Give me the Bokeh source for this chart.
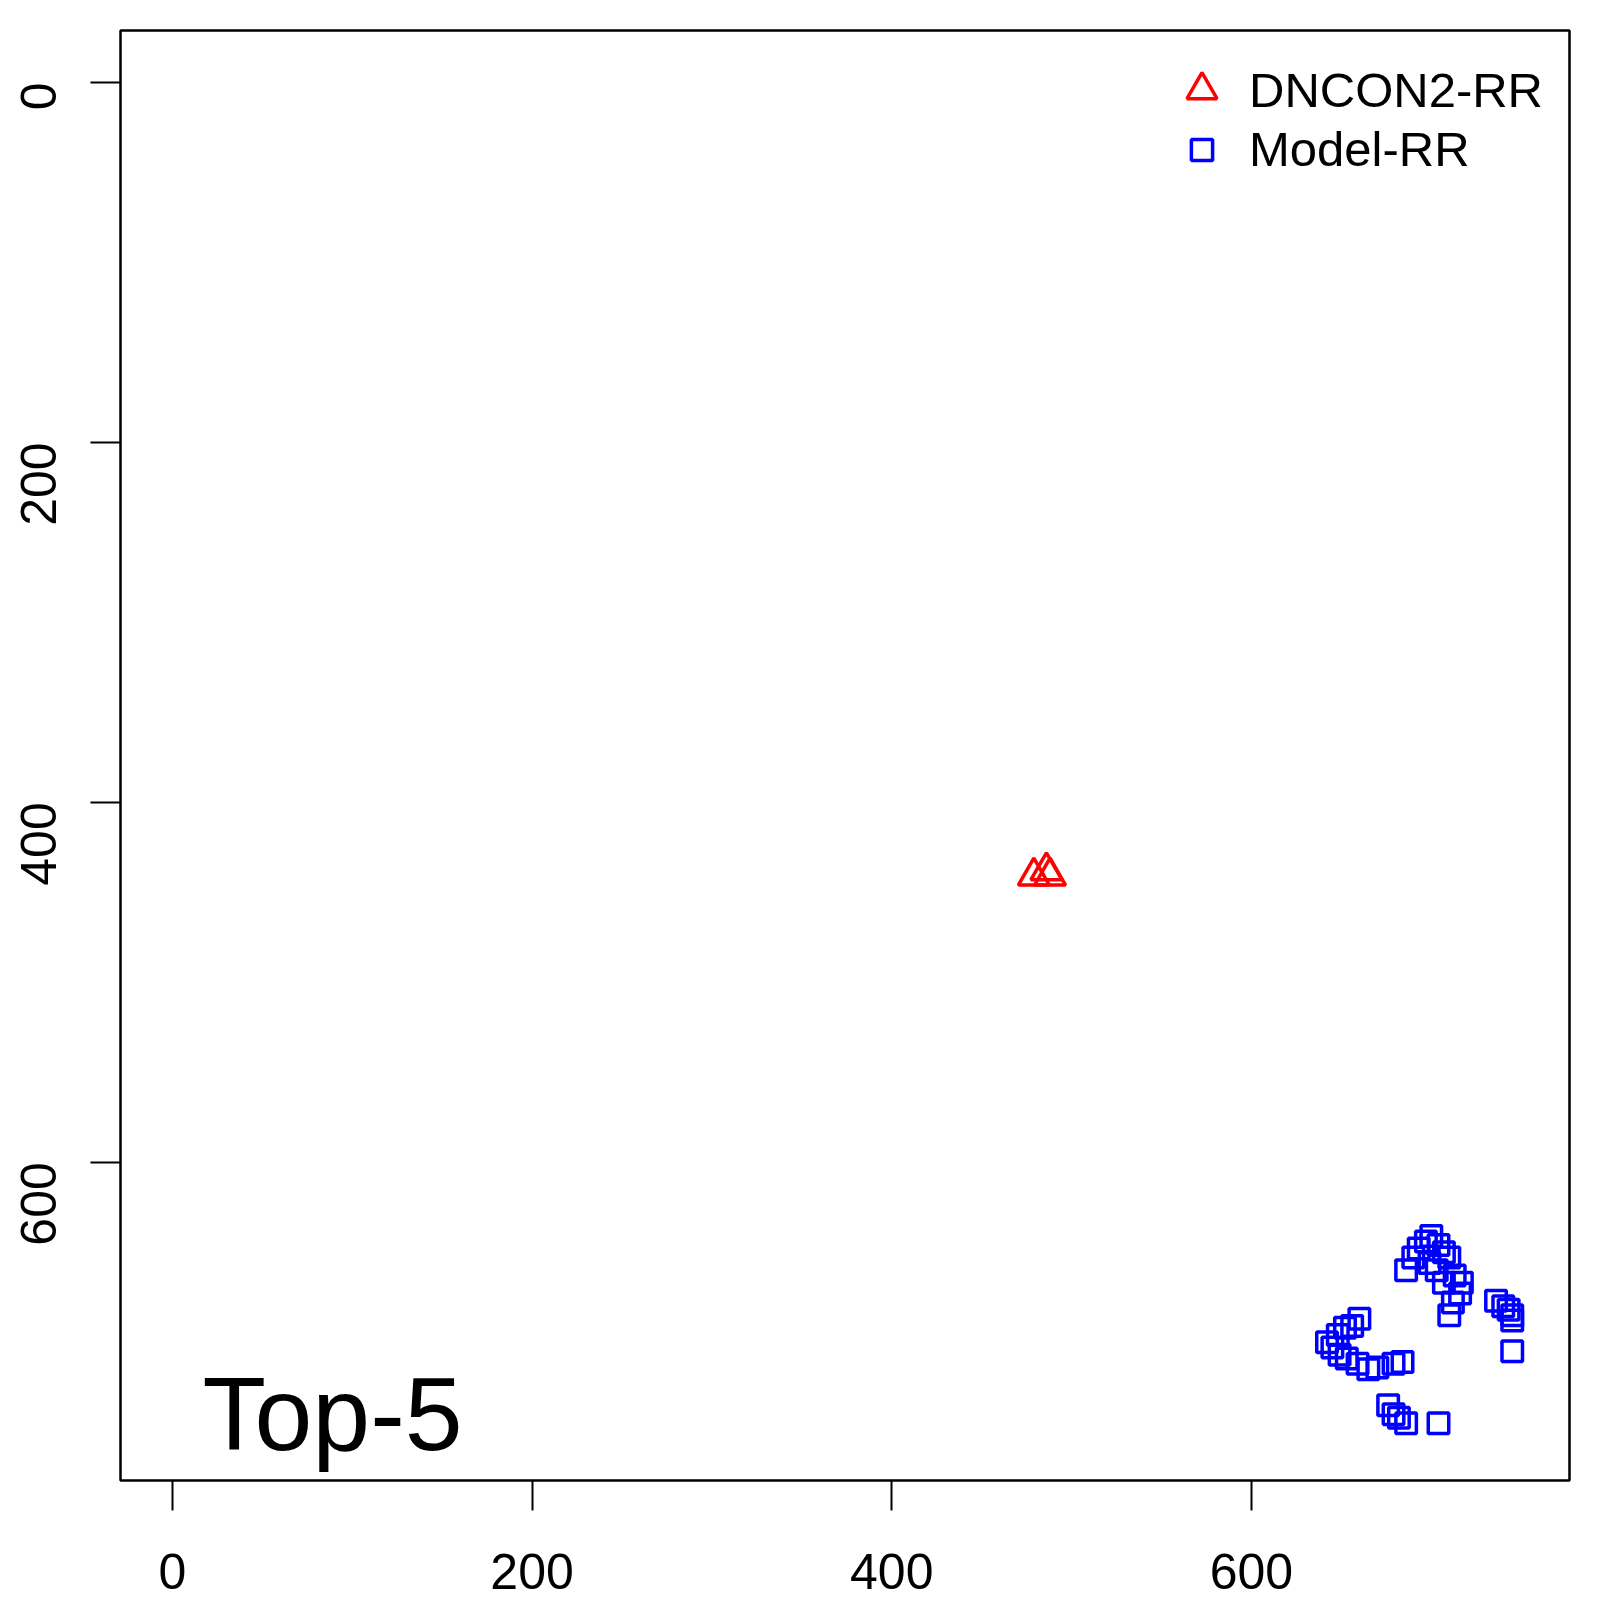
import math
from bokeh.plotting import figure
from bokeh.models import (Range1d, FixedTicker, Legend, LegendItem, Label,
                          LinearAxis)
from bokeh.embed import file_html
from bokeh.resources import INLINE

# ---- data ----
dncon2_x = [479, 486, 488]
dncon2_y = [441, 438, 441]

model_x = [700, 697, 704, 693, 707, 690, 710, 699, 686, 703, 713, 717, 707,
           716, 710, 712, 736, 740, 743, 745, 745, 745,
           660, 656, 652, 648, 642, 645, 649, 653, 659, 665, 670, 679, 684,
           676, 679, 682, 686, 704]
model_y = [641, 644, 646, 648, 650, 653, 653, 656, 660, 660, 663, 667, 667,
           673, 685, 678, 677, 680, 682, 685, 688, 705,
           687, 691, 692, 696, 700, 703, 707, 709, 712, 715, 714, 712, 711,
           735, 740, 742, 745, 745]

x_ticks = [0, 200, 400, 600]
y_ticks = [0, 200, 400, 600]
seq_len = 747
legend_labels = ["DNCON2-RR", "Model-RR"]
panel_label = "Top-5"

FONT = "Liberation Sans"

pad = 0.04 * (seq_len - 1)
p = figure(width=1600, height=1600, output_backend="svg", toolbar_location=None,
           x_range=Range1d(1 - pad, seq_len + pad),
           y_range=Range1d(seq_len + pad, 1 - pad),
           x_axis_location=None, y_axis_location=None,
           min_border_left=120, min_border_right=31,
           min_border_top=30, min_border_bottom=120)
p.grid.visible = False
p.outline_line_color = "black"
p.outline_line_width = 2.5
p.background_fill_color = "white"
p.border_fill_color = "white"

xa = LinearAxis(ticker=FixedTicker(ticks=x_ticks))
ya = LinearAxis(ticker=FixedTicker(ticks=y_ticks))
for ax in (xa, ya):
    ax.axis_line_color = None
    ax.major_tick_out = 30
    ax.major_tick_in = 0
    ax.minor_tick_line_color = None
    ax.major_tick_line_width = 2
    ax.major_tick_line_color = "black"
    ax.major_label_text_font = FONT
    ax.major_label_text_font_size = "50px"
    ax.major_label_text_color = "black"
xa.major_label_standoff = 43
ya.major_label_standoff = 52
ya.major_label_orientation = math.pi / 2
p.add_layout(xa, "below")
p.add_layout(ya, "left")

tri = p.scatter(dncon2_x, dncon2_y, marker="triangle", size=31,
                fill_color=None, line_color="red", line_width=3.5)
sq = p.scatter(model_x, model_y, marker="square", size=20.5,
               fill_color=None, line_color="blue", line_width=3.5)

def make_legend(label, rend, glyph, left, bottom, standoff):
    lg = Legend(items=[LegendItem(label=label, renderers=[rend])],
                location=(left, bottom), glyph_width=glyph, glyph_height=glyph,
                label_height=glyph, label_standoff=standoff, padding=0,
                margin=0, spacing=0, border_line_color=None,
                background_fill_alpha=0, label_text_font=FONT,
                label_text_font_size="49px", label_text_color="black")
    p.add_layout(lg, "center")

make_legend(legend_labels[0], tri, 75, 1044, 1353, 10)
make_legend(legend_labels[1], sq, 53, 1055, 1303, 21)

p.add_layout(Label(x=82, y=67, x_units="screen", y_units="screen",
                   text=panel_label, text_font=FONT, text_font_size="104px",
                   text_color="black", text_baseline="alphabetic"))

open("out.html", "w").write(file_html(p, INLINE))
